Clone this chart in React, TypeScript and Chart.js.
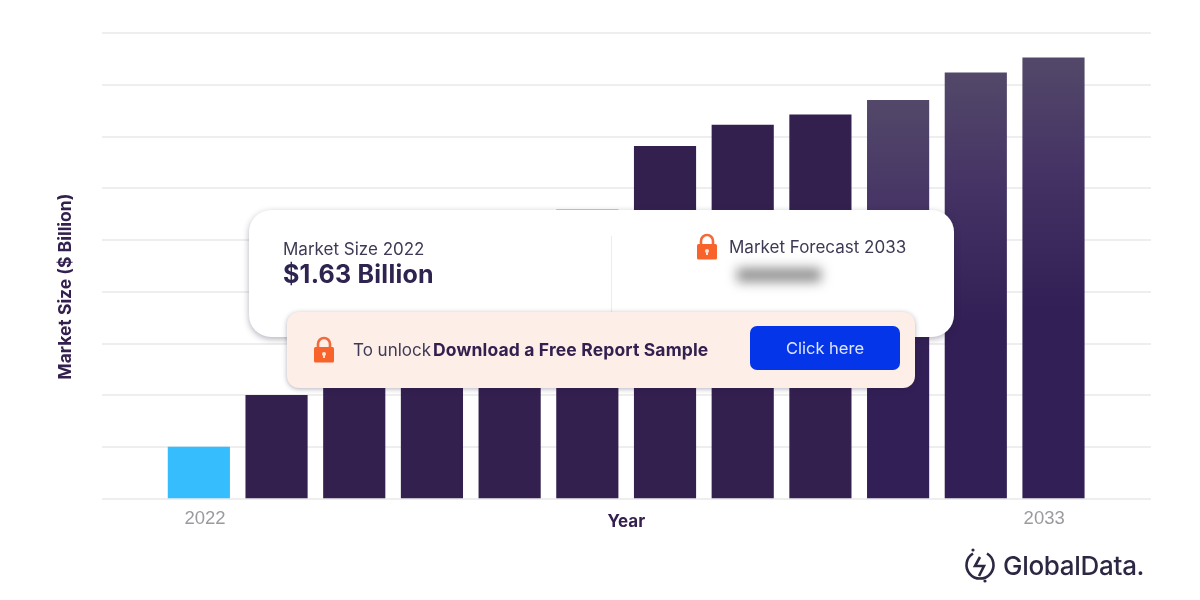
import React, { useEffect, useRef } from "react";
import { Chart, registerables } from "chart.js";

Chart.register(...registerables);

const years = [2022, 2023, 2024, 2025, 2026, 2027, 2028, 2029, 2030, 2031, 2032, 2033];
const marketSize = [1.0, 2.0, 2.95, 3.75, 4.65, 5.58, 6.81, 7.22, 7.42, 7.7, 8.23, 8.52];
const tickYears = [2022, 2033];
const xTitle = "Year";
const yTitle = "Market Size ($ Billion)";
const forecastFrom = 2031;

const sans = "Inter, Roboto, sans-serif";
const ink = "#33204f";

const abs = (left: number, top: number, extra: React.CSSProperties = {}): React.CSSProperties => ({
  position: "absolute",
  left,
  top,
  whiteSpace: "nowrap",
  fontFamily: sans,
  ...extra,
});

function Lock({ left, top }: { left: number; top: number }) {
  return (
    <svg style={{ position: "absolute", left, top }} width="22" height="27" viewBox="0 0 22 27">
      <path d="M5 12V8a6 6 0 0 1 12 0v4" fill="none" stroke="#f2693a" strokeWidth="2.6" />
      <rect x="1" y="11" width="20" height="15.5" rx="1.5" fill="#f8622b" />
      <circle cx="11" cy="18" r="2" fill="#fde3d4" />
      <rect x="10" y="18" width="2" height="4" fill="#fde3d4" />
    </svg>
  );
}

export default function App() {
  const ref = useRef<HTMLCanvasElement>(null);

  useEffect(() => {
    document.body.style.margin = "0";
    const chart = new Chart(ref.current!, {
      type: "bar",
      data: {
        labels: years,
        datasets: [
          {
            data: years.map((y, i) => ({ x: y, y: marketSize[i] })),
            barThickness: 61.5,
            backgroundColor: (c: any) => {
              const year = years[c.dataIndex];
              if (year === years[0]) return "#35bdfd";
              if (year < forecastFrom) return ink;
              const scale = c.chart.scales.y;
              if (!scale) return ink;
              const top = scale.getPixelForValue(marketSize[c.dataIndex]);
              const g = c.chart.ctx.createLinearGradient(0, top, 0, top + 250);
              g.addColorStop(0, "#534869");
              g.addColorStop(0.45, "#453365");
              g.addColorStop(1, "#321f55");
              return g;
            },
          },
        ],
      },
      options: {
        animation: false,
        responsive: false,
        parsing: { xAxisKey: "x", yAxisKey: "y" } as any,
        layout: { padding: { top: 33, right: 49, left: 55.5, bottom: 68 } },
        plugins: { legend: { display: false }, tooltip: { enabled: false } },
        scales: {
          x: {
            type: "linear",
            offset: false,
            min: 2020.747,
            max: 2034.255,
            grid: { display: false },
            border: { display: false },
            afterBuildTicks: (axis: any) => {
              axis.ticks = [
                { value: tickYears[0] + 0.08 },
                { value: tickYears[1] - 0.12 },
              ];
            },
            ticks: {
              color: "#9a9aa0",
              font: { family: "'Liberation Sans', Arial, sans-serif", size: 18.5 },
              padding: 0.5,
              maxRotation: 0,
              callback: (v: any) => String(Math.round(Number(v))),
            },
            title: {
              display: true,
              text: xTitle,
              color: ink,
              font: { family: sans, size: 17, weight: "bold" },
              padding: { top: -18.5, bottom: 0 },
            },
          },
          y: {
            min: 0,
            max: 9,
            grid: { color: "#eeeeee", lineWidth: 2, drawTicks: false },
            border: { display: false },
            ticks: { display: false, stepSize: 1 },
            title: {
              display: true,
              text: yTitle + " ".repeat(10),
              color: ink,
              font: { family: sans, size: 17.5, weight: "bold" },
              padding: { top: 0, bottom: 25 },
            },
          },
        },
      },
    } as any);
    return () => chart.destroy();
  }, []);

  return (
    <div style={{ position: "absolute", left: 0, top: 0, width: 1200, height: 600, overflow: "hidden", background: "#fff" }}>
      <canvas ref={ref} width={1200} height={600} style={{ position: "absolute", left: 0, top: 0, display: "block" }} />

      <div style={abs(249, 210, { width: 705, height: 127, boxSizing: "border-box", background: "#fff", borderRadius: 22, boxShadow: "0 2px 6px rgba(40,30,60,.35)" })} />
      <div style={abs(611, 236, { width: 1, height: 76, background: "#ececec" })} />
      <div style={abs(283, 239, { fontSize: 17, lineHeight: "21px", color: "#3d3a55" })}>Market Size 2022</div>
      <div style={abs(283, 259, { fontSize: 25, lineHeight: "30px", letterSpacing: 0.25, fontWeight: 700, color: "#2f2350" })}>$1.63 Billion</div>

      <Lock left={696} top={233} />
      <div style={abs(729, 237, { fontSize: 17, lineHeight: "21px", color: "#3d3a55" })}>Market Forecast 2033</div>
      <div style={abs(737, 268, { width: 84, height: 14, background: "#909090", filter: "blur(6px)" })} />

      <div style={abs(287, 312, { width: 628, height: 76, background: "#fdeee8", borderRadius: 12, boxShadow: "0 1px 5px rgba(40,30,60,.35)" })} />
      <Lock left={313} top={336} />
      <div style={abs(353, 340, { fontSize: 17, lineHeight: "20px", color: "#3d3a55" })}>To unlock</div>
      <div style={abs(433, 340, { fontSize: 17.5, lineHeight: "20px", fontWeight: 700, letterSpacing: 0.15, color: "#33204f" })}>Download a Free Report Sample</div>
      <div style={abs(750, 326, { width: 150, height: 44, lineHeight: "45px", textAlign: "center", background: "#0435e8", borderRadius: 7, color: "#dfe6ff", fontSize: 16.5 })}>Click here</div>

      <svg style={{ position: "absolute", left: 964, top: 547 }} width="32" height="37" viewBox="0 0 32 37">
        <path d="M9 6.5A13.5 13.5 0 1 0 23 6.5" fill="none" stroke="#2c2742" strokeWidth="2.6" />
        <path d="M16 10L11 19L20 19L15 29" fill="none" stroke="#2c2742" strokeWidth="2.6" />
        <circle cx="9" cy="3" r="1.6" fill="#2c2742" />
        <circle cx="21" cy="34" r="1.6" fill="#2c2742" />
      </svg>
      <div style={abs(1003, 550, { fontSize: 26, lineHeight: "32px", fontWeight: 500, color: "#2c2742", letterSpacing: -0.3 })}>GlobalData.</div>
    </div>
  );
}
